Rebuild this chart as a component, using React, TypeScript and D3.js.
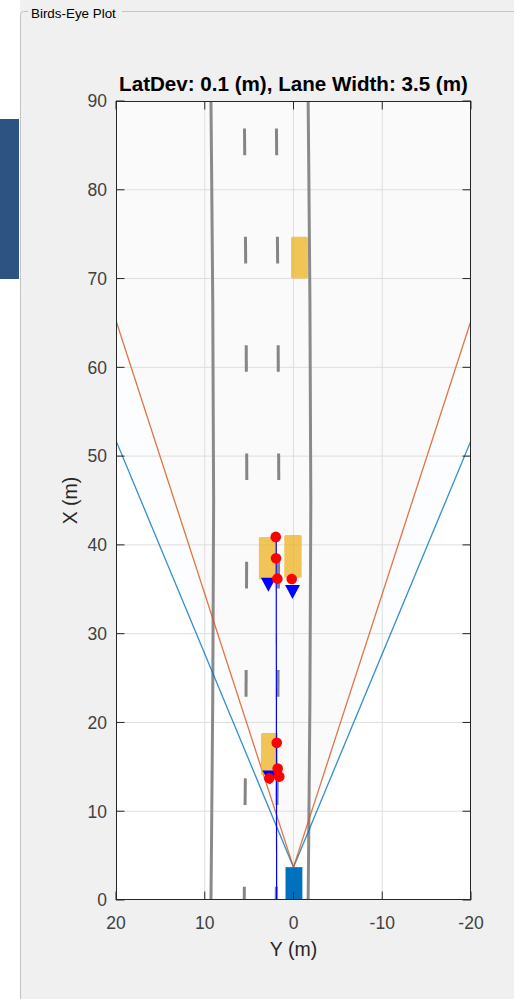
import React, { useEffect, useRef } from "react";
import * as d3 from "d3";

// axis ticks (X is longitudinal / vertical, Y is lateral / horizontal, reversed)
const xTicks = [0, 10, 20, 30, 40, 50, 60, 70, 80, 90];
const yTicks = [20, 10, 0, -10, -20];

// lane markings: lateral position at X = 0, and how the road bends further out
const laneOffsets = [9.3, 5.55, 1.95, -1.65];
const laneKinds = ["solid", "dashed", "dashed", "solid"];
const bendStations = [0, 22.5, 45, 67.5, 90];
const bendShift = [0, -0.2, -0.3, -0.2, 0];
const dashStarts = [-1.5, 10.7, 22.9, 35.1, 47.3, 59.5, 71.7, 83.9];
const dashLength = 3;

// target vehicles [xMin, xMax], [yMin, yMax]
const vehicleX = [[70.0, 74.7], [36.1, 40.9], [36.3, 41.1], [14.1, 18.8]];
const vehicleY = [[-1.63, 0.28], [1.86, 3.9], [-0.92, 1.04], [1.75, 3.66]];

// ego car
const egoX = [-1, 3.7];
const egoY = [-1.0, 0.9];

// sensor coverage areas
const sensorOrigin = [3.7, 0];
const sensorHalfFov = [22.6, 18.0];
const sensorRange = [150, 160];
const sensorColors = ["#0072BD", "#D95319"];
const sensorFillOpacity = [0.016, 0.015];

// detections (red) and tracks (blue triangles)
const detX = [40.9, 38.5, 36.2, 36.15, 17.7, 14.8, 13.7, 13.9];
const detY = [2.0, 1.97, 1.82, 0.2, 1.89, 1.78, 2.73, 1.6];
const trackX = [35.5, 34.7, 13.8];
const trackY = [2.83, 0.11, 2.65];

// blue path line
const pathX = [0, 40.9];
const pathY = [1.9, 1.95];

const font = "'Liberation Sans', Arial, Helvetica, sans-serif";

const BirdsEye = () => {
  const svgRef = useRef<SVGSVGElement>(null);

  useEffect(() => {
    const svg = d3.select(svgRef.current);
    svg.selectAll("*").remove();

    const W = 514;
    const H = 999;
    const plot = { left: 116, right: 471, top: 101, bottom: 900 };

    // background / panel
    svg.append("rect").attr("width", W).attr("height", H).attr("fill", "#f0f0f0");
    svg.append("rect").attr("width", 20).attr("height", H).attr("fill", "#ffffff");
    svg.append("rect").attr("x", 0).attr("y", 119).attr("width", 19).attr("height", 160).attr("fill", "#2d5382");
    svg
      .append("rect")
      .attr("x", 20.5)
      .attr("y", 11.5)
      .attr("width", 620)
      .attr("height", 1100)
      .attr("rx", 3)
      .attr("fill", "none")
      .attr("stroke", "#c4c4c4");
    svg.append("rect").attr("x", 28).attr("y", 3).attr("width", 94).attr("height", 18).attr("fill", "#f0f0f0");
    svg
      .append("text")
      .attr("x", 31)
      .attr("y", 17.5)
      .attr("font-family", font)
      .attr("font-size", 13.4)
      .attr("fill", "#000")
      .text("Birds-Eye Plot");

    const x = d3.scaleLinear().domain([20, -20]).range([plot.left, plot.right]);
    const y = d3.scaleLinear().domain([0, 90]).range([plot.bottom, plot.top]);

    svg
      .append("defs")
      .append("clipPath")
      .attr("id", "plotClip")
      .append("rect")
      .attr("x", plot.left)
      .attr("y", plot.top)
      .attr("width", plot.right - plot.left)
      .attr("height", plot.bottom - plot.top);

    svg
      .append("rect")
      .attr("x", plot.left)
      .attr("y", plot.top)
      .attr("width", plot.right - plot.left)
      .attr("height", plot.bottom - plot.top)
      .attr("fill", "#ffffff");

    const g = svg.append("g").attr("clip-path", "url(#plotClip)");

    // coverage fills
    sensorHalfFov.forEach((half, i) => {
      const angles = d3.range(-half, half + 0.001, 1);
      const pts: [number, number][] = [[sensorOrigin[0], sensorOrigin[1]]];
      angles.forEach((a) => {
        const r = (a * Math.PI) / 180;
        pts.push([sensorOrigin[0] + sensorRange[i] * Math.cos(r), sensorOrigin[1] + sensorRange[i] * Math.sin(r)]);
      });
      g.append("path")
        .attr("d", "M" + pts.map((p) => `${x(p[1])},${y(p[0])}`).join("L") + "Z")
        .attr("fill", sensorColors[i])
        .attr("fill-opacity", sensorFillOpacity[i])
        .attr("stroke", "none");
    });

    // grid
    g.selectAll(".gx")
      .data(xTicks)
      .join("line")
      .attr("x1", plot.left)
      .attr("x2", plot.right)
      .attr("y1", (d) => y(d))
      .attr("y2", (d) => y(d))
      .attr("stroke", "#dedede")
      .attr("stroke-width", 1);
    g.selectAll(".gy")
      .data(yTicks)
      .join("line")
      .attr("y1", plot.top)
      .attr("y2", plot.bottom)
      .attr("x1", (d) => x(d))
      .attr("x2", (d) => x(d))
      .attr("stroke", "#dedede")
      .attr("stroke-width", 1);

    // lane markings
    const bend = d3.scaleLinear().domain(bendStations).range(bendShift);
    laneOffsets.forEach((off, i) => {
      if (laneKinds[i] === "solid") {
        const line = d3
          .line<number>()
          .x((_, k) => x(off + bendShift[k]))
          .y((d) => y(d))
          .curve(d3.curveNatural);
        g.append("path")
          .attr("d", line(bendStations))
          .attr("fill", "none")
          .attr("stroke", "#8a8a8a")
          .attr("stroke-width", 3);
      } else {
        dashStarts.forEach((s) => {
          g.append("line")
            .attr("x1", x(off + bend(s)))
            .attr("x2", x(off + bend(s + dashLength)))
            .attr("y1", y(s))
            .attr("y2", y(s + dashLength))
            .attr("stroke", "#858585")
            .attr("stroke-width", 3);
        });
      }
    });

    // coverage edges
    sensorHalfFov.forEach((half, i) => {
      [-half, half].forEach((a) => {
        const r = (a * Math.PI) / 180;
        g.append("line")
          .attr("x1", x(sensorOrigin[1]))
          .attr("y1", y(sensorOrigin[0]))
          .attr("x2", x(sensorOrigin[1] + sensorRange[i] * Math.sin(r)))
          .attr("y2", y(sensorOrigin[0] + sensorRange[i] * Math.cos(r)))
          .attr("stroke", sensorColors[i])
          .attr("stroke-opacity", 0.8)
          .attr("stroke-width", 1.3);
      });
    });

    // target vehicles
    vehicleX.forEach((vx, i) => {
      const vy = vehicleY[i];
      g.append("rect")
        .attr("x", x(vy[1]))
        .attr("y", y(vx[1]))
        .attr("width", x(vy[0]) - x(vy[1]))
        .attr("height", y(vx[0]) - y(vx[1]))
        .attr("rx", 1.5)
        .attr("fill", "#EDB120")
        .attr("fill-opacity", 0.75);
    });

    // path line
    g.append("line")
      .attr("x1", x(pathY[0]))
      .attr("y1", y(pathX[0]))
      .attr("x2", x(pathY[1]))
      .attr("y2", y(pathX[1]))
      .attr("stroke", "#0000ff")
      .attr("stroke-width", 1.2);

    // tracks
    trackX.forEach((tx, i) => {
      const cx = x(trackY[i]);
      const cy = y(tx);
      g.append("path")
        .attr("d", `M${cx - 7.5},${cy - 7}L${cx + 7.5},${cy - 7}L${cx},${cy + 7}Z`)
        .attr("fill", "#0000ff");
    });

    // detections
    g.selectAll(".det")
      .data(detX)
      .join("circle")
      .attr("cx", (_, i) => x(detY[i]))
      .attr("cy", (d) => y(d))
      .attr("r", 5.3)
      .attr("fill", "#ff0000");

    // ego
    g.append("rect")
      .attr("x", x(egoY[1]))
      .attr("y", y(egoX[1]))
      .attr("width", x(egoY[0]) - x(egoY[1]))
      .attr("height", y(egoX[0]) - y(egoX[1]))
      .attr("fill", "#0072BD");

    // box + ticks
    const axisColor = "#262626";
    svg
      .append("rect")
      .attr("x", plot.left + 0.5)
      .attr("y", plot.top + 0.5)
      .attr("width", plot.right - plot.left - 1)
      .attr("height", plot.bottom - plot.top - 1)
      .attr("fill", "none")
      .attr("stroke", axisColor)
      .attr("stroke-width", 1);

    const tickLen = 8.5;
    xTicks.forEach((t) => {
      [
        [plot.left, plot.left + tickLen],
        [plot.right, plot.right - tickLen],
      ].forEach(([a, b]) =>
        svg
          .append("line")
          .attr("x1", a)
          .attr("x2", b)
          .attr("y1", y(t))
          .attr("y2", y(t))
          .attr("stroke", axisColor)
      );
      svg
        .append("text")
        .attr("x", 107)
        .attr("y", y(t))
        .attr("dy", "0.36em")
        .attr("text-anchor", "end")
        .attr("font-family", font)
        .attr("font-size", 17.5)
        .attr("fill", "#404040")
        .text(t);
    });
    yTicks.forEach((t) => {
      [
        [plot.bottom, plot.bottom - tickLen],
        [plot.top, plot.top + tickLen],
      ].forEach(([a, b]) =>
        svg
          .append("line")
          .attr("y1", a)
          .attr("y2", b)
          .attr("x1", x(t))
          .attr("x2", x(t))
          .attr("stroke", axisColor)
      );
      svg
        .append("text")
        .attr("x", x(t))
        .attr("y", 929)
        .attr("text-anchor", "middle")
        .attr("font-family", font)
        .attr("font-size", 17.5)
        .attr("fill", "#404040")
        .text(t);
    });

    // labels
    svg
      .append("text")
      .attr("x", (plot.left + plot.right) / 2)
      .attr("y", 956)
      .attr("text-anchor", "middle")
      .attr("font-family", font)
      .attr("font-size", 19.5)
      .attr("fill", "#262626")
      .text("Y (m)");
    svg
      .append("text")
      .attr("transform", `translate(77,${(plot.top + plot.bottom) / 2}) rotate(-90)`)
      .attr("text-anchor", "middle")
      .attr("font-family", font)
      .attr("font-size", 19.5)
      .attr("fill", "#262626")
      .text("X (m)");
    svg
      .append("text")
      .attr("x", (plot.left + plot.right) / 2)
      .attr("y", 90.5)
      .attr("text-anchor", "middle")
      .attr("font-family", font)
      .attr("font-size", 20.6)
      .attr("font-weight", "bold")
      .attr("fill", "#000")
      .text("LatDev: 0.1 (m), Lane Width: 3.5 (m)");
  }, []);

  return (
    <svg
      ref={svgRef}
      width={514}
      height={999}
      style={{ position: "absolute", left: 0, top: 0, display: "block" }}
    />
  );
};

export default function App() {
  return <BirdsEye />;
}
